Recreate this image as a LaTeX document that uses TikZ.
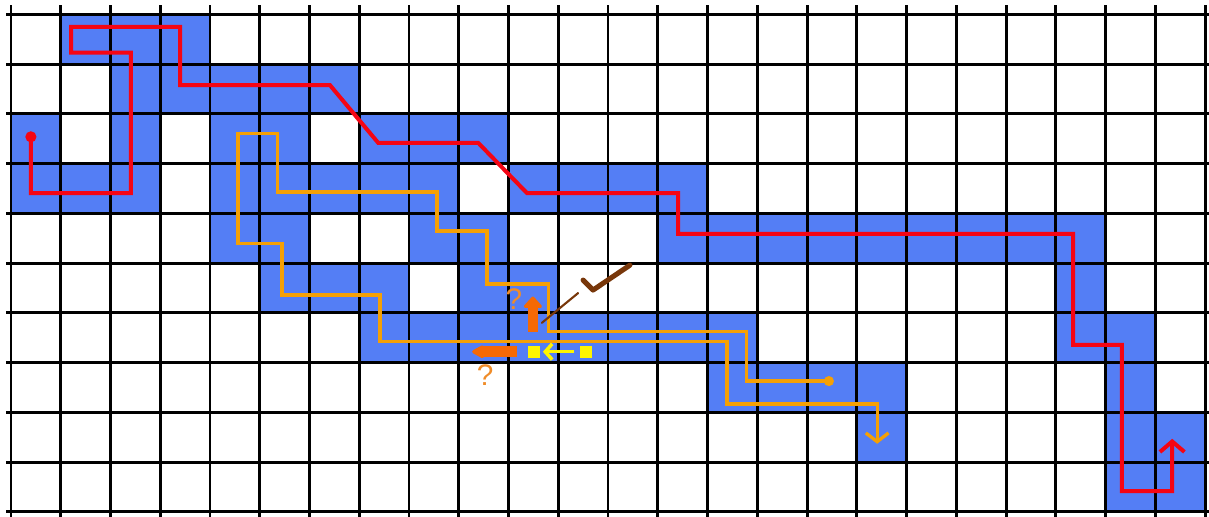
\documentclass[tikz,border=0pt]{standalone}
\usepackage{fontspec}
\setmainfont{Liberation Sans}
\usepackage{xcolor}
\usepackage{tikz}
\usetikzlibrary{
  arrows.meta,
  positioning,
  calc
}
\definecolor{azulcelda}{RGB}{84, 126, 245}
\definecolor{rojoruta}{RGB}{245, 5, 20}
\definecolor{naranjaruta}{RGB}{245, 160, 5}
\definecolor{naranjaflecha}{RGB}{245, 105, 5}
\definecolor{naranjapreg}{RGB}{240, 140, 40}
\definecolor{amarillo}{RGB}{255, 245, 0}
\definecolor{marron}{RGB}{120, 55, 10}

\begin{document}
\begin{tikzpicture}[
  celda/.style   = {fill=azulcelda},
  rejilla/.style = {line width=1.7pt, black},
  rutar/.style   = {line width=2.3pt, rojoruta,
    -{Straight Barb[length=6pt, width=14pt]}},
  rutan/.style   = {line width=1.9pt, naranjaruta,
    -{Straight Barb[length=5pt, width=13pt]}},
  preg/.style    = {text=naranjapreg, font=\fontsize{17}{17}\selectfont, inner sep=0pt},
  gruesa/.style  = {line width=6pt, naranjaflecha},
  cuadro/.style  = {rectangle, fill=amarillo, minimum size=6.9pt, inner sep=0pt},
  flamar/.style  = {line width=2pt, amarillo, -{Straight Barb[length=4pt, width=9pt]},
    shorten >=1.5pt, shorten <=3pt}
]
\useasboundingbox[fill=white] (-0.221,-0.1) rectangle (24.08,10.29);

% Celdas libres (fila desde arriba / columnas)
\foreach \r/\cols in {0/{1,2,3}, 1/{2,3,4,5,6}, 2/{0,2,4,5,7,8,9},
    3/{0,1,2,4,5,6,7,8,10,11,12,13},
    4/{4,5,8,9,13,14,15,16,17,18,19,20,21},
    5/{5,6,7,9,10,21}, 6/{7,8,9,10,11,12,13,14,21,22},
    7/{14,15,16,17,22}, 8/{17,22,23}, 9/{22,23}}
  \foreach \c in \cols
    \fill[celda] ({\c},{9-\r}) rectangle ++(1,1);

% Rejilla
\foreach \x in {0,...,24}
  \draw[rejilla] (\x,-0.1) -- (\x,10.19);
\foreach \y in {0,...,10}
  \draw[rejilla] (-0.1,\y) -- (24.08,\y);

% Ruta roja
\coordinate (rojoIni) at (0.40,7.54);
\coordinate (rojoFin) at (23.34,1.47);
\draw[rutar] (rojoIni) -- (0.40,6.41) -- (2.41,6.41) -- (2.41,9.23)
  -- (1.21,9.23) -- (1.21,9.75) -- (3.40,9.75) -- (3.40,8.58)
  -- (6.41,8.58) -- (7.38,7.42) -- (9.39,7.42) -- (10.37,6.41)
  -- (13.41,6.41) -- (13.41,5.59) -- (21.35,5.59) -- (21.35,3.36)
  -- (22.33,3.36) -- (22.33,0.42) -- (23.34,0.42) -- (rojoFin);
\fill[rojoruta] (rojoIni) circle (3.2pt);

% Ruta naranja
\coordinate (narIni) at (16.44,2.63);
\coordinate (narFin) at (17.41,1.37);
\draw[rutan] (narIni) -- (14.79,2.63) -- (14.79,3.62) -- (10.81,3.62)
  -- (10.81,4.58) -- (9.57,4.58) -- (9.57,5.65) -- (8.56,5.65)
  -- (8.56,6.43) -- (5.35,6.43) -- (5.35,7.60) -- (4.56,7.60)
  -- (4.56,5.39) -- (5.45,5.39) -- (5.45,4.36) -- (7.42,4.36)
  -- (7.42,3.42) -- (14.39,3.42) -- (14.39,2.17) -- (17.41,2.17)
  -- (narFin);
\fill[naranjaruta] (narIni) circle (2.9pt);

% Marcas del cruce
\node[preg] (q1) at (10.11,4.27) {?};
\node[preg] (q2) at (9.53,2.75) {?};
\coordinate (arrA) at (10.49,3.62);
\coordinate (arrB) at (10.49,4.33);
\draw[gruesa, -{Triangle[length=7pt, width=12pt, round]}] (arrA) -- (arrB);
\coordinate (izqA) at (10.17,3.22);
\coordinate (izqB) at (9.27,3.22);
\draw[gruesa, -{Triangle[length=8pt, width=8pt, round]}] (izqA) -- (izqB);

\node[cuadro] (ys1) at (10.51,3.22) {};
\node[cuadro] (ys2) at (11.56,3.22) {};
\draw[flamar] (ys2) -- (ys1);

% Visto bueno
\coordinate (lin1) at (10.67,3.80);
\coordinate (lin2) at (11.40,4.40);
\draw[marron, line width=1.2pt, line cap=round] (lin1) -- (lin2);
\draw[marron, line width=2.9pt, line cap=round, line join=round]
  (11.50,4.66) -- (11.70,4.46) -- (12.44,4.96);

\end{tikzpicture}
\end{document}
